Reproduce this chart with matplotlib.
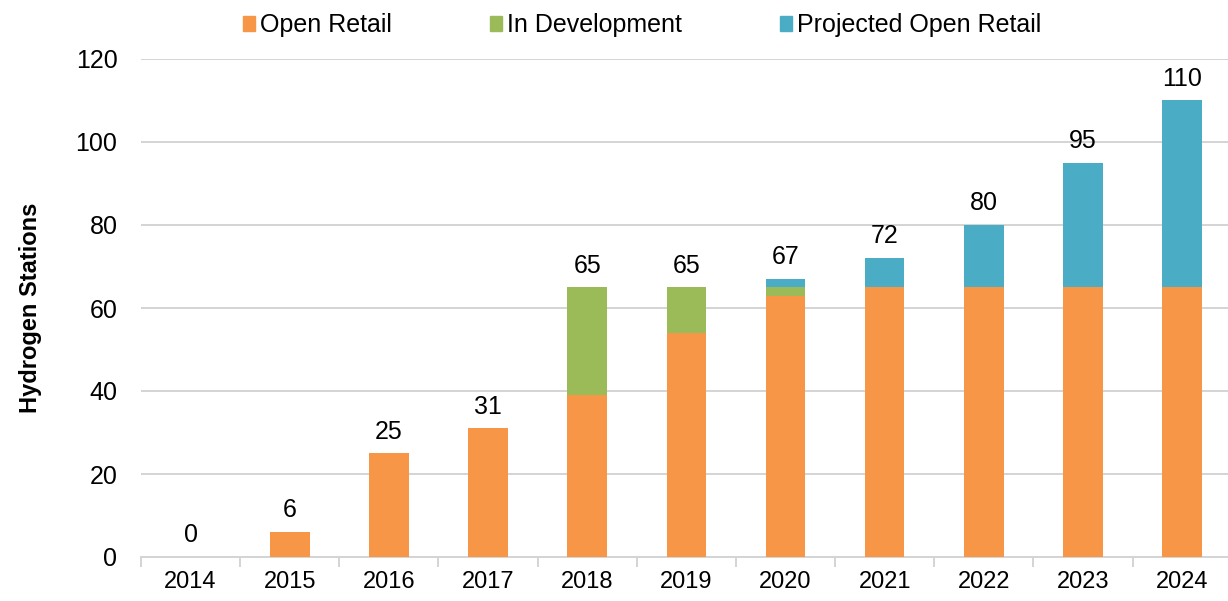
import matplotlib
matplotlib.use("Agg")
import matplotlib.pyplot as plt
import numpy as np
from matplotlib.patches import Patch

plt.rcParams['font.family'] = ['Liberation Sans', 'DejaVu Sans']

years = ['2014', '2015', '2016', '2017', '2018', '2019', '2020', '2021', '2022', '2023', '2024']
open_retail = [0, 6, 25, 31, 39, 54, 63, 65, 65, 65, 65]
in_development = [0, 0, 0, 0, 26, 11, 2, 0, 0, 0, 0]
projected = [0, 0, 0, 0, 0, 0, 2, 7, 15, 30, 45]
totals = [0, 6, 25, 31, 65, 65, 67, 72, 80, 95, 110]

c_open = '#F79646'
c_dev = '#9BBB59'
c_proj = '#4BACC6'

fig = plt.figure(figsize=(12.28, 6.01), dpi=100)
ax = fig.add_axes([141/1228, 44/601, 1 - 141/1228 + 0.003, (557-59)/601])

x = np.arange(len(years))
w = 0.4
ax.bar(x, open_retail, w, color=c_open, linewidth=0, zorder=3)
ax.bar(x, in_development, w, bottom=open_retail, color=c_dev, linewidth=0, zorder=3)
bot2 = [a + b for a, b in zip(open_retail, in_development)]
ax.bar(x, projected, w, bottom=bot2, color=c_proj, linewidth=0, zorder=3)

for xi, t in zip(x, totals):
    ax.annotate(str(t), (xi, t), xytext=(0, 7), textcoords='offset points',
                ha='center', va='bottom', fontsize=18)

ax.set_ylim(0, 120)
ax.set_xlim(-0.5, 10.5)
ax.set_yticks(range(0, 121, 20))
ax.yaxis.grid(True, color='#D4D4D4', linewidth=1.4, zorder=0)
ax.set_axisbelow(True)
for s in ['top', 'right', 'left']:
    ax.spines[s].set_visible(False)
ax.spines['bottom'].set_color('#D4D4D4')
ax.spines['bottom'].set_linewidth(1.4)
ax.tick_params(axis='y', length=0, labelsize=18, pad=17)
ax.set_xticks(x)
ax.set_xticklabels(years)
ax.tick_params(axis='x', length=0, labelsize=17, pad=10)
ax.set_xticks(np.arange(-0.5, 11, 1), minor=True)
ax.tick_params(axis='x', which='minor', length=7, color='#D4D4D4', width=1.4)

ax.set_ylabel('Hydrogen Stations', fontsize=17, fontweight='bold', labelpad=24)

handles = [Patch(color=c_open), Patch(color=c_dev), Patch(color=c_proj)]
fig.legend(handles, ['Open Retail', 'In Development', 'Projected Open Retail'],
           loc='upper center', bbox_to_anchor=(0.523, 1.015), ncol=3, frameon=False,
           fontsize=18, handlelength=0.5, handleheight=0.5, handletextpad=0.2,
           columnspacing=3.9)

fig.savefig('out.png', dpi=100)
